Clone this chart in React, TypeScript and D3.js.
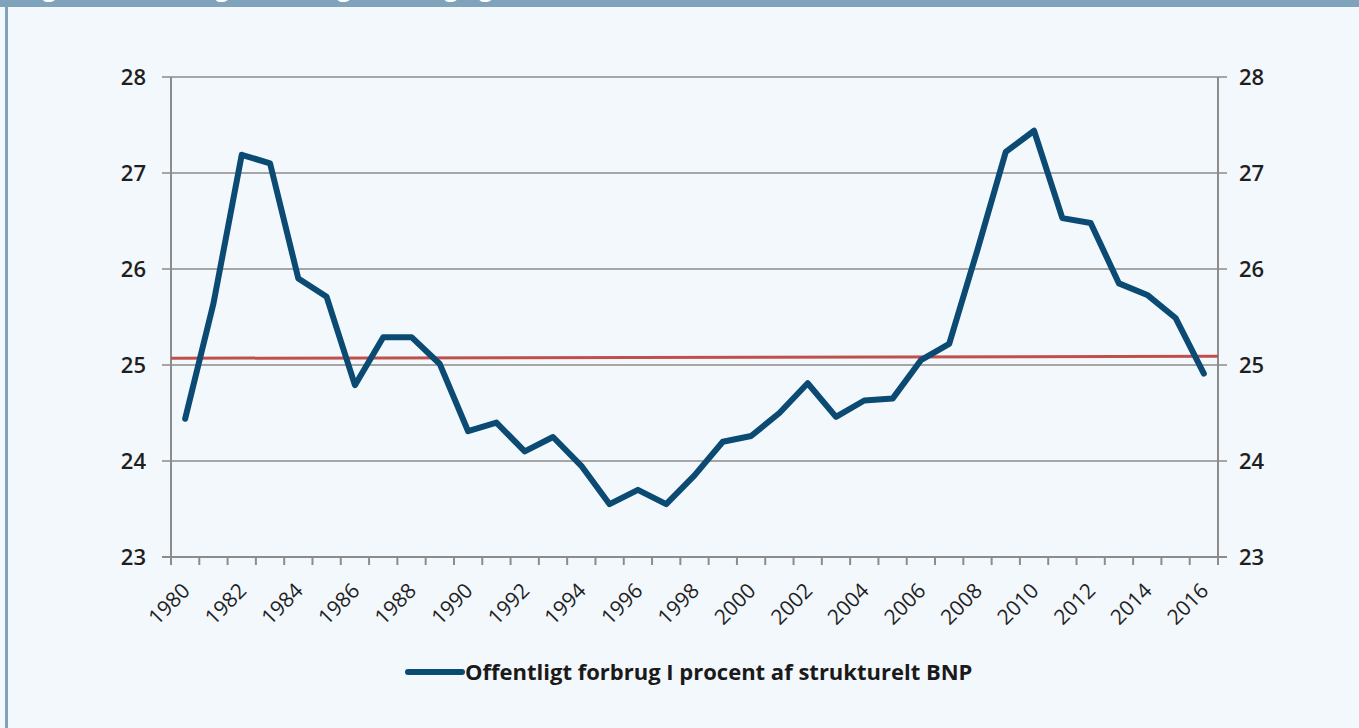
import React from 'react';
import * as d3 from 'd3';

const width = 1359;
const height = 728;

const years = d3.range(1980, 2017).map(String);
const values = [
  24.44, 25.64, 27.19, 27.1, 25.9, 25.71, 24.79, 25.29, 25.29, 25.01,
  24.31, 24.4, 24.1, 24.25, 23.95, 23.55, 23.7, 23.55, 23.85, 24.2,
  24.26, 24.5, 24.81, 24.46, 24.63, 24.65, 25.05, 25.22, 26.2, 27.22,
  27.44, 26.53, 26.48, 25.85, 25.73, 25.49, 24.91,
];
const yTicks = [23, 24, 25, 26, 27, 28];
// level line (start, end)
const refLine = [25.07, 25.09];
const seriesName = 'Offentligt forbrug I procent af strukturelt BNP';
const title = 'Figur 2. Udvikling i offentligt forbrug og strukturelt BNP';

const margin = { left: 171, right: 141, top: 77, bottom: 171 };

const lineColor = '#0b4a72';
const refColor = '#c0504d';
const gridColor = '#a6a6a6';
const axisColor = '#8c8c8c';
const bg = '#f3f8fd';
const frame = '#7fa3bb';
const font = '"Open Sans", "Noto Sans", sans-serif';

const x = d3.scaleBand<string>()
  .domain(years)
  .range([margin.left, width - margin.right])
  .padding(0);

const y = d3.scaleLinear()
  .domain([23, 28])
  .range([height - margin.bottom, margin.top]);

const line = d3.line<number>()
  .x((d, i) => (x(years[i]) as number) + x.bandwidth() / 2)
  .y(d => y(d));

const refX = d3.scaleLinear().domain([0, refLine.length - 1]).range(x.range());
const refPath = d3.line<number>()
  .x((d, i) => refX(i))
  .y(d => y(d));

export default function App() {
  const [x0, x1] = x.range();
  const y0 = y.range()[0];
  const boundaries = years.map(yr => x(yr) as number).concat([x1]);

  return (
    <svg width={width} height={height}
      style={{ position: 'absolute', left: 0, top: 0, display: 'block' }}>
      <defs>
        <clipPath id="band">
          <rect x={0} y={0} width={width} height={7} />
        </clipPath>
      </defs>
      <rect width={width} height={height} fill={bg} />
      <rect x={0} y={0} width={width} height={7} fill={frame} />
      <rect x={5} y={0} width={3} height={height} fill={frame} />
      <text x={22} y={-4} fill="white" fontFamily={font} fontWeight={700}
        fontSize={24} clipPath="url(#band)">{title}</text>

      {/* grid */}
      {yTicks.map(t => (
        <line key={t} x1={x0 - 9} x2={x1 + 9} y1={y(t)} y2={y(t)}
          stroke={gridColor} strokeWidth={2} />
      ))}
      <line x1={x0} x2={x0} y1={y(28)} y2={y0} stroke={axisColor} strokeWidth={2} />
      <line x1={x1} x2={x1} y1={y(28)} y2={y0} stroke={axisColor} strokeWidth={2} />
      <line x1={x0 - 9} x2={x1 + 9} y1={y0} y2={y0} stroke={axisColor} strokeWidth={2} />

      {boundaries.map((bx, i) => (
        <line key={i} x1={bx} x2={bx} y1={y0} y2={y0 + 8} stroke={axisColor} strokeWidth={2} />
      ))}

      {yTicks.map(t => (
        <g key={t} fontFamily={font} fontSize={22} fontWeight={600} fill="#1f1f1f">
          <text x={x0 - 25} y={y(t)} dy="0.36em" textAnchor="end">{t}</text>
          <text x={x1 + 21} y={y(t)} dy="0.36em" textAnchor="start">{t}</text>
        </g>
      ))}

      {years.filter((yr, i) => i % 2 === 0).map(yr => {
        const cx = (x(yr) as number) + x.bandwidth() / 2 + 6;
        const cy = y0 + 35;
        return (
          <text key={yr} x={cx} y={cy} textAnchor="end" fontFamily={font}
            fontSize={21} fill="#1f1f1f" transform={`rotate(-45 ${cx} ${cy})`}>
            {yr}
          </text>
        );
      })}

      <path d={refPath(refLine) as string} fill="none" stroke={refColor} strokeWidth={3} />
      <path d={line(values) as string} fill="none" stroke={lineColor} strokeWidth={6}
        strokeLinejoin="round" strokeLinecap="round" />

      <line x1={408} x2={462} y1={672} y2={672} stroke={lineColor} strokeWidth={6}
        strokeLinecap="round" />
      <text x={465} y={680} fontFamily={font} fontSize={22} fontWeight={700}
        fill="#1a1a1a">{seriesName}</text>
    </svg>
  );
}
